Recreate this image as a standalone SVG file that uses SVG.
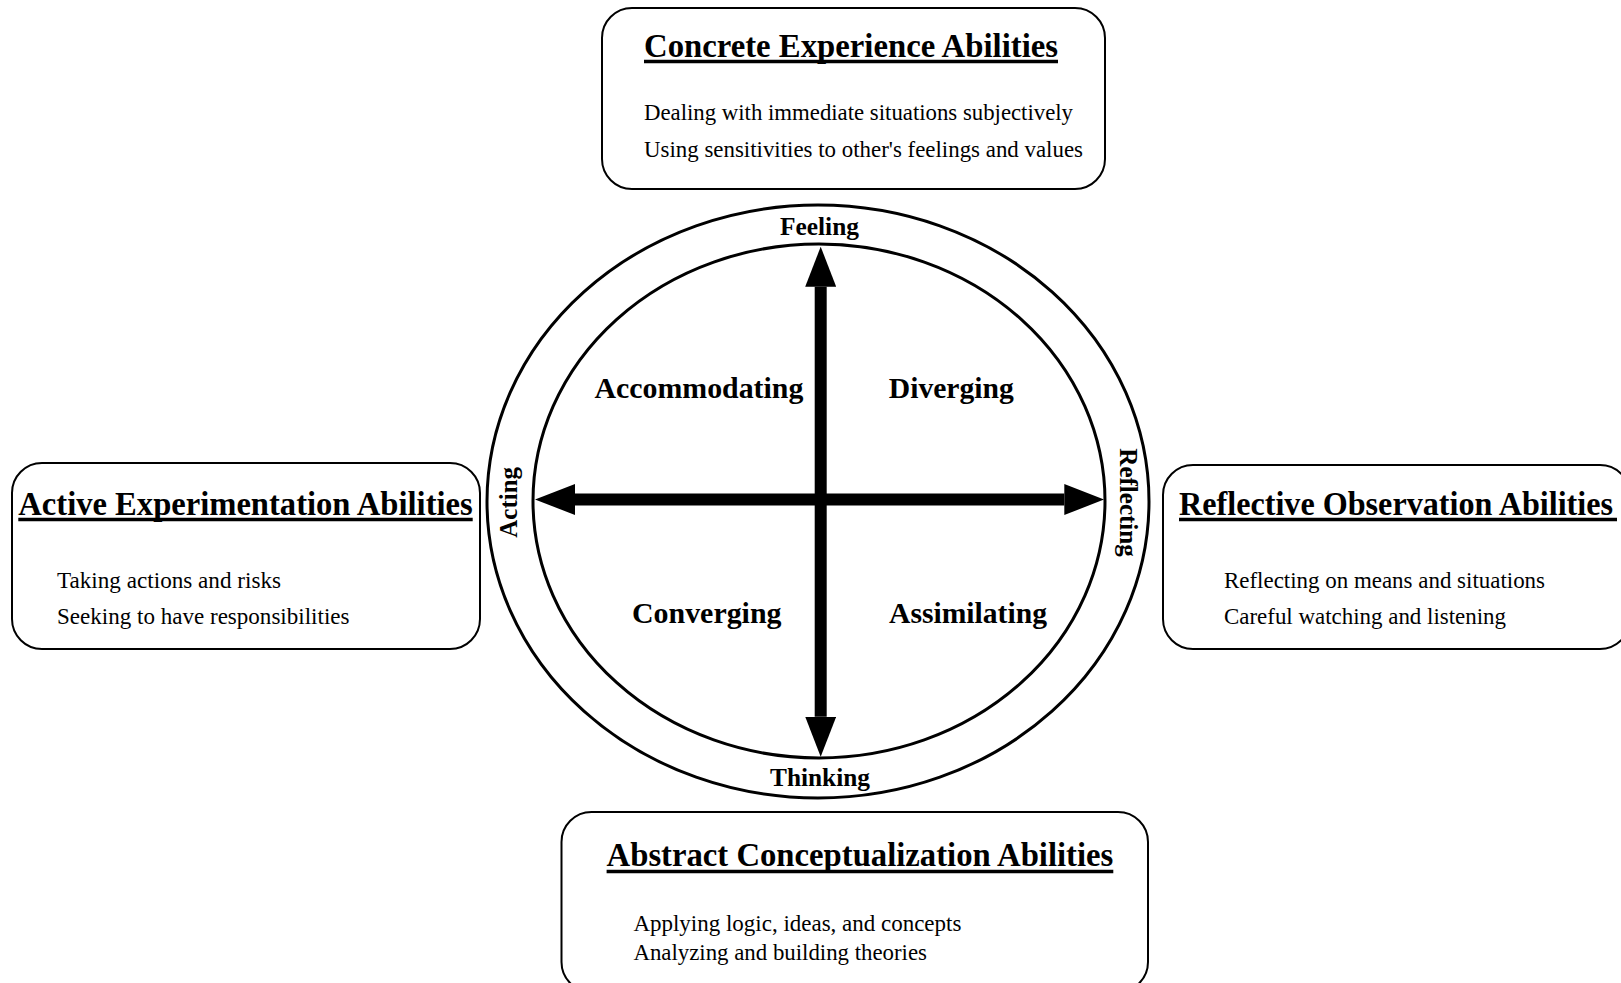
<svg xmlns="http://www.w3.org/2000/svg" width="1621" height="983" viewBox="0 0 1621 983">
<style>
.box{fill:#fff;stroke:#000;stroke-width:2}
.ell{fill:none;stroke:#000;stroke-width:3}
.title{font-family:"Liberation Serif","Times New Roman",serif;font-weight:bold;font-size:34px;fill:#000}
.body{font-family:"Liberation Serif","Times New Roman",serif;font-size:23.5px;fill:#000}
.quad{font-family:"Liberation Serif","Times New Roman",serif;font-weight:bold;font-size:30px;fill:#000}
.axis{font-family:"Liberation Serif","Times New Roman",serif;font-weight:bold;font-size:25px;fill:#000}
.ul{stroke:#000;stroke-width:3.5}
.shaft{stroke:#000;stroke-width:12;fill:none}
</style>
<defs>
<marker id="head" markerUnits="userSpaceOnUse" markerWidth="40" markerHeight="31" refX="0" refY="15.5" orient="auto-start-reverse">
<path d="M0,0 L40,15.5 L0,31 Z" fill="#000"/>
</marker>
</defs>
<rect width="1621" height="983" fill="#fff"/>

<g id="box-concrete">
<rect class="box" x="602" y="8" width="503" height="181" rx="30" ry="30"/>
<text class="title" x="644" y="57" textLength="414" lengthAdjust="spacingAndGlyphs">Concrete Experience Abilities</text>
<line class="ul" x1="644" y1="61.5" x2="1058" y2="61.5"/>
<text class="body" x="644" y="119.5" textLength="429" lengthAdjust="spacingAndGlyphs">Dealing with immediate situations subjectively</text>
<text class="body" x="644" y="157" textLength="439" lengthAdjust="spacingAndGlyphs">Using sensitivities to other's feelings and values</text>
</g>

<g id="box-active">
<rect class="box" x="12" y="463" width="468" height="186" rx="30" ry="30"/>
<text class="title" x="18.3" y="515" textLength="454.4" lengthAdjust="spacingAndGlyphs">Active Experimentation Abilities</text>
<line class="ul" x1="18.3" y1="519.5" x2="472.7" y2="519.5"/>
<text class="body" x="57" y="588" textLength="224" lengthAdjust="spacingAndGlyphs">Taking actions and risks</text>
<text class="body" x="57" y="623.5" textLength="292.5" lengthAdjust="spacingAndGlyphs">Seeking to have responsibilities</text>
</g>

<g id="box-reflective">
<rect class="box" x="1163" y="465" width="467" height="184" rx="30" ry="30"/>
<text class="title" x="1179" y="515" textLength="434" lengthAdjust="spacingAndGlyphs">Reflective Observation Abilities</text>
<line class="ul" x1="1179" y1="519.5" x2="1617" y2="519.5"/>
<text class="body" x="1224" y="588" textLength="321" lengthAdjust="spacingAndGlyphs">Reflecting on means and situations</text>
<text class="body" x="1224" y="623.5" textLength="282" lengthAdjust="spacingAndGlyphs">Careful watching and listening</text>
</g>

<g id="box-abstract">
<rect class="box" x="561.5" y="812" width="586.5" height="180" rx="30" ry="30"/>
<text class="title" x="606.6" y="866" textLength="506.7" lengthAdjust="spacingAndGlyphs">Abstract Conceptualization Abilities</text>
<line class="ul" x1="606.6" y1="871.5" x2="1113.3" y2="871.5"/>
<text class="body" x="633.4" y="931" textLength="328" lengthAdjust="spacingAndGlyphs">Applying logic, ideas, and concepts</text>
<text class="body" x="633.4" y="960" textLength="293.6" lengthAdjust="spacingAndGlyphs">Analyzing and building theories</text>
</g>

<g id="cycle">
<ellipse class="ell" cx="818" cy="501.5" rx="331" ry="296.5"/>
<ellipse class="ell" cx="819" cy="501" rx="286" ry="257"/>
<text class="axis" x="780" y="235" textLength="79" lengthAdjust="spacingAndGlyphs">Feeling</text>
<text class="axis" x="770" y="786" textLength="100" lengthAdjust="spacingAndGlyphs">Thinking</text>
<text class="axis" text-anchor="middle" transform="translate(516.7,502.3) rotate(-90)">Acting</text>
<text class="axis" text-anchor="middle" transform="translate(1120,502.5) rotate(90)">Reflecting</text>
</g>

<g id="quadrant-accommodating"><text class="quad" x="594.4" y="398.3" textLength="209" lengthAdjust="spacingAndGlyphs">Accommodating</text></g>
<g id="quadrant-diverging"><text class="quad" x="888.8" y="398.3" textLength="125" lengthAdjust="spacingAndGlyphs">Diverging</text></g>
<g id="quadrant-converging"><text class="quad" x="632" y="622.7" textLength="149.5" lengthAdjust="spacingAndGlyphs">Converging</text></g>
<g id="quadrant-assimilating"><text class="quad" x="889" y="622.7" textLength="158" lengthAdjust="spacingAndGlyphs">Assimilating</text></g>

<g id="connectors">
<line class="shaft" x1="820.7" y1="286.7" x2="820.7" y2="716.7" marker-start="url(#head)" marker-end="url(#head)"/>
<line class="shaft" x1="575" y1="499.5" x2="1064.3" y2="499.5" marker-start="url(#head)" marker-end="url(#head)"/>
</g>
</svg>
